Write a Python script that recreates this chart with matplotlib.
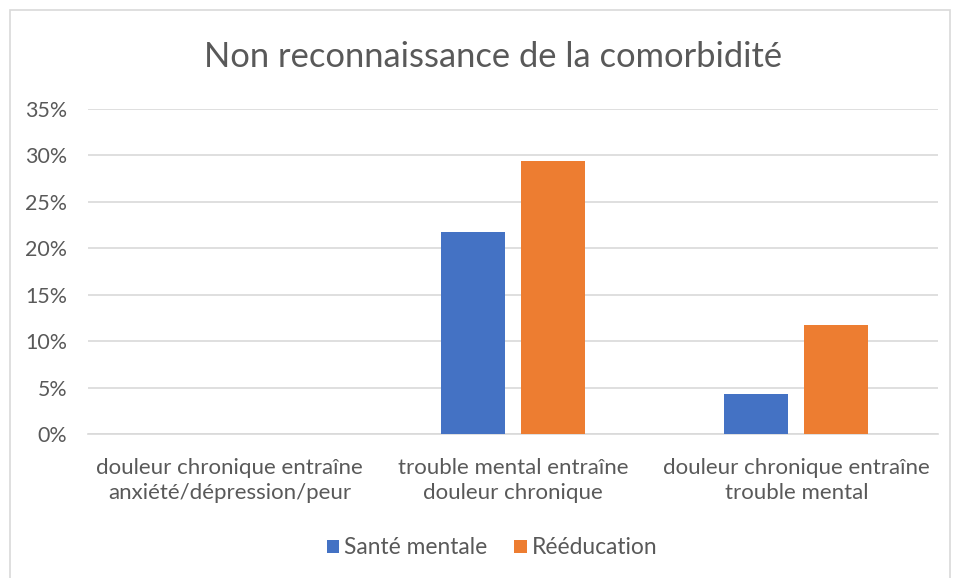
import matplotlib
matplotlib.use("Agg")
import matplotlib.pyplot as plt
from matplotlib.patches import Rectangle
from matplotlib.ticker import PercentFormatter
import numpy as np

categories = ["douleur chronique entraîne\nanxiété/dépression/peur",
              "trouble mental entraîne\ndouleur chronique",
              "douleur chronique entraîne\ntrouble mental"]
series_names = ["Santé mentale", "Rééducation"]
sante_mentale = [0.0, 0.2174, 0.0435]
reeducation = [0.0, 0.2941, 0.1176]
colors = ["#4472C4", "#ED7D31"]

plt.rcParams['font.family'] = ['Lato', 'DejaVu Sans']
W, H = 954, 578
fig = plt.figure(figsize=(W/100, H/100), dpi=100)
ax = fig.add_axes([88/W, 1-434/H, 850/W, 325/H])

x = np.arange(len(categories))
bw = 0.226
off = 0.141
ax.bar(x - off, sante_mentale, bw, color=colors[0], label=series_names[0], zorder=3)
ax.bar(x + off, reeducation, bw, color=colors[1], label=series_names[1], zorder=3)

ax.set_xlim(-0.5, 2.5)
ax.set_ylim(0, 0.35)
ax.set_yticks(np.arange(0, 0.351, 0.05))
ax.yaxis.set_major_formatter(PercentFormatter(1.0, decimals=0))
ax.grid(axis='y', color='#d9d9d9', linewidth=1.2, zorder=0)
for s in ['top', 'right', 'left']:
    ax.spines[s].set_visible(False)
ax.spines['bottom'].set_color('#d9d9d9')
ax.spines['bottom'].set_linewidth(1.2)
ax.tick_params(axis='both', length=0, colors='#595959')
ax.tick_params(axis='y', pad=15, labelsize=15.4)
ax.tick_params(axis='x', pad=17)
ax.set_xticks(x)
ax.set_xticklabels(categories, fontsize=16, color='#595959', linespacing=1.35)

fig.text(493/W, 1-57/H, "Non reconnaissance de la comorbidité", ha='center', va='center',
         fontsize=24.8, color='#595959')

leg = fig.legend(loc='center', bbox_to_anchor=(492/W, 1-548/H), ncol=2, frameon=False,
                 fontsize=16.4, labelcolor='#595959', handlelength=0.55, handleheight=0.55,
                 columnspacing=1.2, handletextpad=0.2)

fig.patches.append(Rectangle((10/W, -0.01), 940/W, 1-10/H + 0.01, transform=fig.transFigure,
                             fill=False, edgecolor='#d9d9d9', linewidth=1.2))

fig.savefig("out.png", dpi=100)
